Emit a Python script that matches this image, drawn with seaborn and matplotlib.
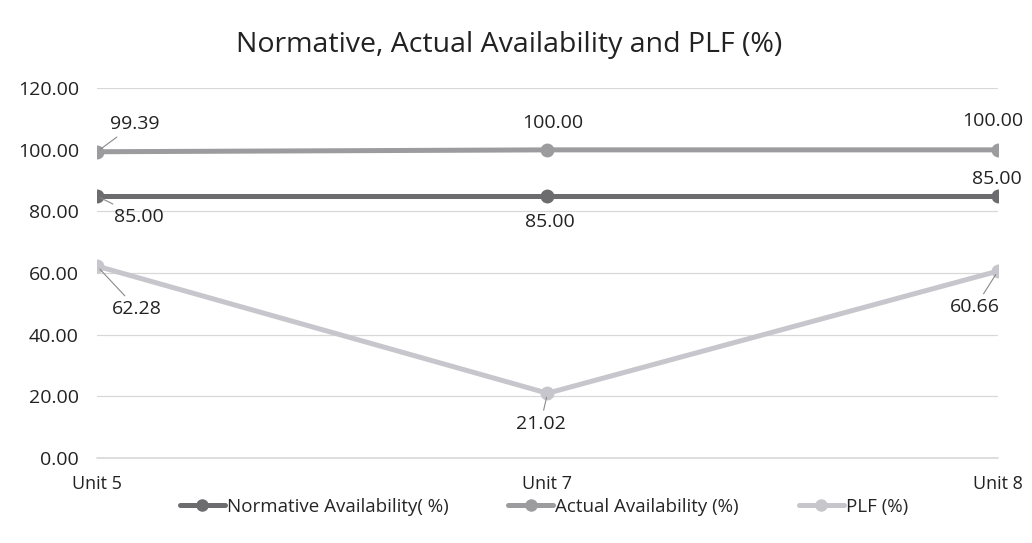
import matplotlib
matplotlib.use("Agg")
import matplotlib.pyplot as plt
import seaborn as sns
import pandas as pd

units = ["Unit 5", "Unit 7", "Unit 8"]
normative = [85.00, 85.00, 85.00]
actual = [99.39, 100.00, 100.00]
plf = [62.28, 21.02, 60.66]
series_names = ["Normative Availability( %)", "Actual Availability (%)", "PLF (%)"]
y_ticks = [0, 20, 40, 60, 80, 100, 120]

df = pd.DataFrame({
    "Unit": units * 3,
    "Value": normative + actual + plf,
    "Series": [series_names[0]] * 3 + [series_names[1]] * 3 + [series_names[2]] * 3,
})

sns.set_theme(style="white")
plt.rcParams["font.family"] = ["Open Sans", "DejaVu Sans"]

fig = plt.figure(figsize=(10.32, 5.43), dpi=100)
ax = fig.add_axes([0.094, 0.1565, 0.873, 0.681])

colors = {series_names[0]: "#6c6c6e", series_names[1]: "#9c9c9e", series_names[2]: "#c6c6cc"}
sns.lineplot(data=df, x="Unit", y="Value", hue="Series", palette=colors,
             marker="o", markersize=10, linewidth=3.6, markeredgewidth=0,
             sort=False, ax=ax, legend=True, zorder=3)

ax.set_xlim(0, 2)
ax.set_ylim(0, 120)
ax.set_yticks(y_ticks)
ax.set_yticklabels([f"{v:.2f}" for v in y_ticks], fontsize=14, color="#222222")
ax.tick_params(axis="x", labelsize=13, colors="#222222", pad=12, length=0)
ax.tick_params(axis="y", pad=13, length=0)
ax.set_xlabel("")
ax.set_ylabel("")
ax.grid(axis="y", color="#d8d8d8", linewidth=0.9, zorder=0)
ax.grid(axis="x", visible=False)
ax.axhline(0, color="#d8d8d8", linewidth=1.2, zorder=0, clip_on=False)
for s in ax.spines.values():
    s.set_visible(False)

def lab(x, y, text, dx, dy, leader=False):
    ax.annotate(text, xy=(x, y), xytext=(dx, dy), textcoords="offset points",
                ha="center", va="center", fontsize=14, color="#222222", zorder=5,
                arrowprops=dict(arrowstyle="-", color="#8a8a8a", lw=0.8,
                                shrinkA=1, shrinkB=3) if leader else None)

lab(0, actual[0], f"{actual[0]:.2f}", 27, 20, leader=True)
lab(0, normative[0], f"{normative[0]:.2f}", 30, -15, leader=True)
lab(0, plf[0], f"{plf[0]:.2f}", 29, -31, leader=True)
lab(1, actual[1], f"{actual[1]:.2f}", 4, 19)
lab(1, normative[1], f"{normative[1]:.2f}", 2, -19)
lab(1, plf[1], f"{plf[1]:.2f}", -5, -22, leader=True)
lab(2, actual[2], f"{actual[2]:.2f}", -4, 21)
lab(2, normative[2], f"{normative[2]:.2f}", -1, 12.5)
lab(2, plf[2], f"{plf[2]:.2f}", -16.5, -26, leader=True)

fig.text(0.493, 0.917, "Normative, Actual Availability and PLF (%)",
         ha="center", va="center", fontsize=20.5, color="#222222")

handles, labels = ax.get_legend_handles_labels()
for h in handles:
    h.set_markersize(9)
ax.legend(handles, labels, loc="center", bbox_to_anchor=(0.496, -0.132),
          ncol=3, frameon=False, fontsize=13.5, handlelength=2.4,
          columnspacing=3.2, handletextpad=0.1)

fig.savefig("out.png", dpi=100, facecolor="white")
